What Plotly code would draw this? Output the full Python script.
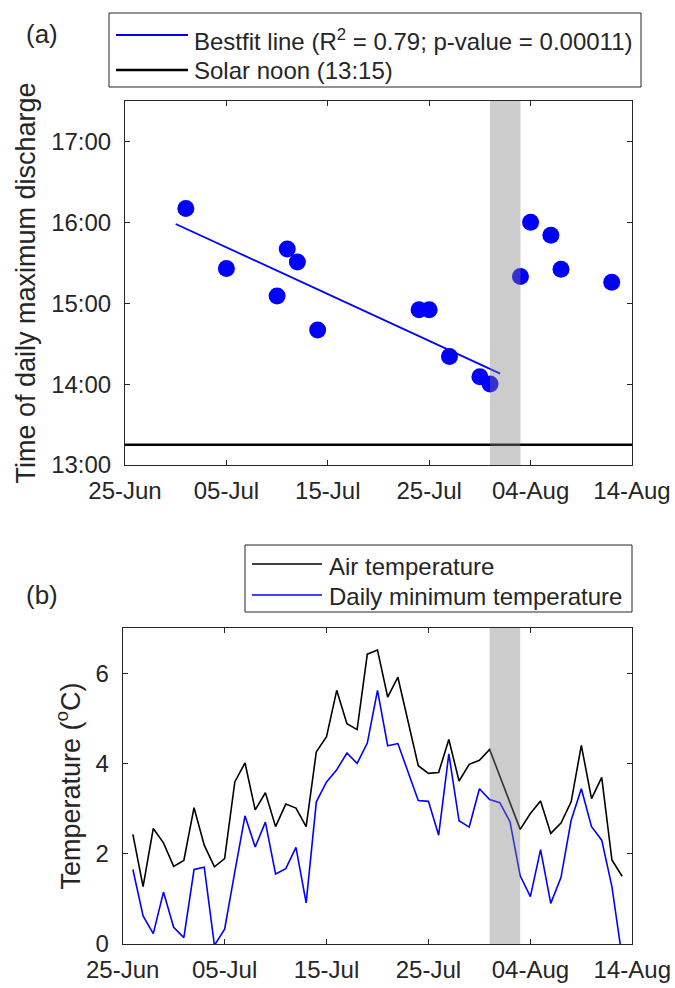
import plotly.graph_objects as go
import pandas as pd

# ---------------- data ----------------
# (a) time of daily maximum discharge (decimal hours)
dis_dates = ["2019-07-01", "2019-07-05", "2019-07-10", "2019-07-11", "2019-07-12",
             "2019-07-14", "2019-07-24", "2019-07-25", "2019-07-27", "2019-07-30",
             "2019-07-31", "2019-08-03", "2019-08-04", "2019-08-06", "2019-08-07",
             "2019-08-12"]
dis_hours = [16.17, 15.43, 15.09, 15.67, 15.51, 14.67, 14.92, 14.92, 14.34, 14.09,
             14.00, 15.33, 16.00, 15.84, 15.42, 15.26]

fit_dates = ["2019-06-30", "2019-08-01"]
fit_hours = [15.98, 14.13]

solar_dates = ["2019-06-25", "2019-08-14"]
solar_hours = [13.25, 13.25]

# (b) temperatures, daily from 26-Jun to 13-Aug
temp_dates = pd.date_range("2019-06-26", periods=49, freq="D")
air_temp = [2.43, 1.27, 2.56, 2.24, 1.72, 1.85, 3.02, 2.19, 1.71, 1.89,
            3.59, 4.01, 2.97, 3.35, 2.60, 3.10, 3.01, 2.60, 4.26, 4.59,
            5.62, 4.88, 4.75, 6.42, 6.51, 5.47, 5.91, 4.93, 3.95, 3.78,
            3.80, 4.53, 3.61, 3.98, 4.07, 4.31, 3.71, 3.11, 2.54, 2.89,
            3.17, 2.45, 2.68, 3.15, 4.40, 3.22, 3.69, 1.86, 1.50]
min_temp = [1.65, 0.62, 0.23, 1.15, 0.37, 0.14, 1.65, 1.70, -0.03, 0.33,
            1.60, 2.84, 2.15, 2.70, 1.55, 1.67, 2.14, 0.91, 3.15, 3.59,
            3.86, 4.23, 4.00, 4.45, 5.62, 4.39, 4.44, 3.81, 3.18, 3.16,
            2.41, 4.21, 2.73, 2.59, 3.44, 3.20, 3.13, 2.71, 1.51, 1.05,
            2.09, 0.90, 1.47, 2.74, 3.44, 2.60, 2.30, 1.27, -0.30]

band_dates = ["2019-07-31", "2019-08-03"]

x_tickvals = ["2019-06-25", "2019-07-05", "2019-07-15", "2019-07-25", "2019-08-04", "2019-08-14"]
x_ticktext = ["25-Jun", "05-Jul", "15-Jul", "25-Jul", "04-Aug", "14-Aug"]
y1_tickvals = [13, 14, 15, 16, 17]
y1_ticktext = ["13:00", "14:00", "15:00", "16:00", "17:00"]
y2_tickvals = [0, 2, 4, 6]

# ---------------- layout helpers ----------------
W, H = 675, 988
def px(x):
    return x / W
def py(y):
    return 1 - y / H

FONT = "Liberation Sans, Arial, Helvetica, sans-serif"
TXT = "#262626"
BLUE = "#0000FF"
FS = 24
FS_TITLE = 27
FS_PANEL = 26

fig = go.Figure()

# panel (a)
fig.add_trace(go.Scatter(x=solar_dates, y=solar_hours, mode="lines",
                         line=dict(color="black", width=2.6),
                         xaxis="x", yaxis="y", showlegend=False, name="Solar noon (13:15)"))
fig.add_trace(go.Scatter(x=fit_dates, y=fit_hours, mode="lines",
                         line=dict(color=BLUE, width=1.8),
                         xaxis="x", yaxis="y", showlegend=False, name="Bestfit line"))
fig.add_trace(go.Scatter(x=dis_dates, y=dis_hours, mode="markers",
                         marker=dict(color=BLUE, size=17, line=dict(width=0)),
                         xaxis="x", yaxis="y", showlegend=False, name="Time of max discharge"))

# panel (b)
fig.add_trace(go.Scatter(x=temp_dates, y=air_temp, mode="lines",
                         line=dict(color="black", width=1.6),
                         xaxis="x2", yaxis="y2", showlegend=False, name="Air temperature"))
fig.add_trace(go.Scatter(x=temp_dates, y=min_temp, mode="lines",
                         line=dict(color=BLUE, width=1.6),
                         xaxis="x2", yaxis="y2", showlegend=False, name="Daily minimum temperature"))

common = dict(showline=True, linecolor=TXT, linewidth=1, mirror="ticks",
              ticks="inside", ticklen=5, tickcolor=TXT, tickwidth=1,
              tickfont=dict(size=FS, color=TXT, family=FONT),
              showgrid=False, zeroline=False, automargin=False)

fig.update_layout(
    template="none",
    width=W, height=H,
    margin=dict(l=0, r=0, t=0, b=0, pad=0, autoexpand=False),
    paper_bgcolor="white", plot_bgcolor="white",
    font=dict(family=FONT, color=TXT, size=FS),
    showlegend=False,
    xaxis=dict(common, type="date", range=["2019-06-25", "2019-08-14"],
               tickvals=x_tickvals, ticktext=x_ticktext, ticklabelstandoff=4,
               domain=[px(125), px(632)], anchor="y"),
    yaxis=dict(common, range=[13, 17.5], tickvals=y1_tickvals, ticktext=y1_ticktext,
               domain=[py(465), py(101)], anchor="x", ticklabelstandoff=8,
               title=dict(text="Time of daily maximum discharge",
                          font=dict(size=FS_TITLE, color=TXT, family=FONT), standoff=7)),
    xaxis2=dict(common, type="date", range=["2019-06-25", "2019-08-14"],
                tickvals=x_tickvals, ticktext=x_ticktext, ticklabelstandoff=4,
                domain=[px(122.7), px(632.3)], anchor="y2"),
    yaxis2=dict(common, range=[0, 7], tickvals=y2_tickvals,
                domain=[py(944), py(628)], anchor="x2", ticklabelstandoff=8,
                title=dict(text="Temperature (<sup>o</sup>C)",
                           font=dict(size=FS_TITLE, color=TXT, family=FONT), standoff=7)),
)

shapes = []
# grey bands
for xr, yr in (("x", "y domain"), ("x2", "y2 domain")):
    shapes.append(dict(type="rect", xref=xr, yref=yr, x0=band_dates[0], x1=band_dates[1],
                       y0=0, y1=1, fillcolor="rgba(128,128,128,0.4)",
                       line=dict(width=0), layer="above"))
# legend (a)
shapes.append(dict(type="rect", xref="paper", yref="paper", x0=px(109), x1=px(641),
                   y0=py(87), y1=py(13), line=dict(color=TXT, width=1), fillcolor="white"))
shapes.append(dict(type="line", xref="paper", yref="paper", x0=px(116), x1=px(188),
                   y0=py(35), y1=py(35), line=dict(color=BLUE, width=1.8)))
shapes.append(dict(type="line", xref="paper", yref="paper", x0=px(116), x1=px(188),
                   y0=py(70), y1=py(70), line=dict(color="black", width=2.6)))
# legend (b)
shapes.append(dict(type="rect", xref="paper", yref="paper", x0=px(245), x1=px(632),
                   y0=py(612), y1=py(545), line=dict(color=TXT, width=1), fillcolor="white"))
shapes.append(dict(type="line", xref="paper", yref="paper", x0=px(252), x1=px(322),
                   y0=py(564), y1=py(564), line=dict(color="black", width=1.6)))
shapes.append(dict(type="line", xref="paper", yref="paper", x0=px(252), x1=px(322),
                   y0=py(595), y1=py(595), line=dict(color=BLUE, width=1.6)))
fig.update_layout(shapes=shapes)

ann = []
def label(text, x, y, xanchor="left", size=FS):
    ann.append(dict(text=text, xref="paper", yref="paper", x=px(x), y=py(y),
                    xanchor=xanchor, yanchor="middle", showarrow=False,
                    font=dict(size=size, color=TXT, family=FONT)))

label("Bestfit line (R<sup>2</sup> = 0.79; p-value = 0.00011)", 192, 40)
label("Solar noon (13:15)", 192, 71)
label("Air temperature", 327, 566)
label("Daily minimum temperature", 327, 596)
label("(a)", 42, 34, "center", FS_PANEL)
label("(b)", 42, 595, "center", FS_PANEL)
fig.update_layout(annotations=ann)

fig.write_html("out.html")
